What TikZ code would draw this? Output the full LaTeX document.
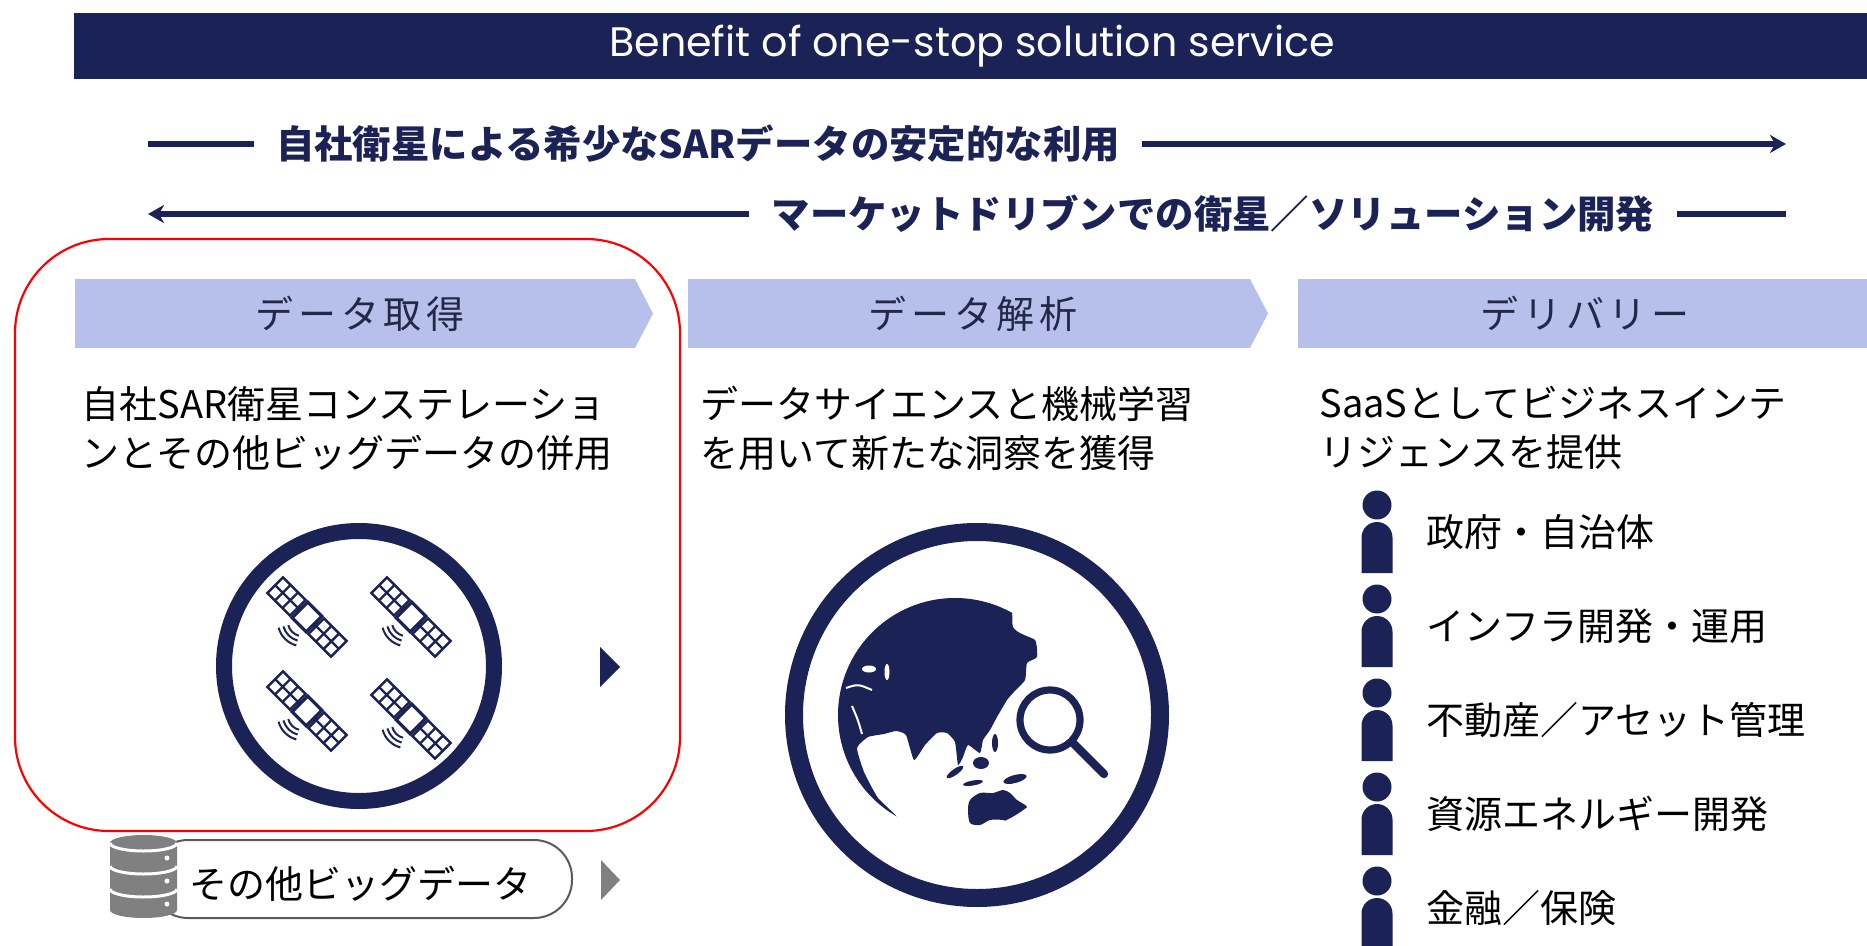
\documentclass[tikz,border=0pt]{standalone}
\usepackage{fontspec}
\setmainfont{Noto Sans CJK JP}
\newfontfamily\titlefont{Poppins}
\newfontfamily\phasefont[LetterSpace=12]{Noto Sans CJK JP}
\usetikzlibrary{arrows.meta}

\definecolor{navy}{RGB}{27,34,86}
\definecolor{phasebg}{RGB}{183,192,234}
\definecolor{phasefg}{RGB}{35,40,72}
\definecolor{dbgray}{RGB}{128,128,128}
\definecolor{pillgray}{RGB}{90,90,90}

\begin{document}
\begin{tikzpicture}[x=0.5pt,y=-0.5pt,
    flow/.style={navy,line width=2.8pt},
    flowtip/.style={-{Stealth[length=8pt,width=9pt,inset=2.5pt]}},
    flowtext/.style={text=navy,inner xsep=11pt,font=\bfseries\fontsize{19.2}{23}\selectfont},
    phase/.style={fill=phasebg},
    phasetext/.style={text=phasefg,font=\phasefont\fontsize{19}{23}\selectfont},
    body/.style={anchor=north west,inner sep=0pt,align=left,font=\fontsize{19}{24.5}\selectfont},
    ring/.style={draw=navy,line width=8pt},
    cell/.style={draw=navy,line width=1.2pt},
    user/.style={anchor=west,inner sep=0pt,font=\fontsize{19}{23}\selectfont}]

\useasboundingbox (0,0) rectangle (1867,946);

% title bar
\fill[navy] (74,13) rectangle (1867,79);
\node[text=white,font=\titlefont\fontsize{20.6}{24}\selectfont] (title) at (972,46) {Benefit of one-stop solution service};

% value flow in both directions
\coordinate (a1start) at (148,144);
\coordinate (a1end) at (1786,144);
\node[flowtext] (a1text) at (698,144) {自社衛星による希少なSARデータの安定的な利用};
\draw[flow] (a1start) -- (a1text.west);
\draw[flow,flowtip] (a1text.east) -- (a1end);

\coordinate (a2start) at (1786,214);
\coordinate (a2end) at (148,214);
\node[flowtext] (a2text) at (1213,214) {マーケットドリブンでの衛星／ソリューション開発};
\draw[flow] (a2start) -- (a2text.east);
\draw[flow,flowtip] (a2text.west) -- (a2end);

% phase headers
\fill[phase] (75,279) -- (635,279) -- (653,313.5) -- (635,348) -- (75,348) -- cycle;
\fill[phase] (688,279) -- (1250,279) -- (1268,313.5) -- (1250,348) -- (688,348) -- cycle;
\fill[phase] (1298,279) rectangle (1867,348);
\node[phasetext] (acq) at (360,313.5) {データ取得};
\node[phasetext] (ana) at (973,313.5) {データ解析};
\node[phasetext] (dlv) at (1585,313.5) {デリバリー};

\node[body] (acqtext) at (81,386) {自社SAR衛星コンステレーショ\\ンとその他ビッグデータの併用};
\node[body] (anatext) at (700,386) {データサイエンスと機械学習\\を用いて新たな洞察を獲得};
\node[body] (dlvtext) at (1319,386) {SaaSとしてビジネスインテ\\リジェンスを提供};

% highlight
\draw[red,line width=1.1pt,rounded corners=47pt] (15,239) rectangle (680,831);

% satellite constellation
\draw[ring] (359,666) circle (135);
\foreach \sx/\sy in {307/617,411/617,307/711,411/719} {
  \begin{scope}[shift={(\sx,\sy)},rotate=-45]
    \foreach \s in {-1,1} {
      \draw[cell] (\s*13,-11) rectangle (\s*45,11);
      \draw[cell] (\s*23.67,-11) -- (\s*23.67,11) (\s*34.33,-11) -- (\s*34.33,11) (\s*13,0) -- (\s*45,0);
      \fill[navy] (\s*10,-3) rectangle (\s*13,3);
    }
    \draw[navy,line width=1.6pt,fill=white] (-10,-11) rectangle (10,11);
    \foreach \r in {15,20,25}
      \draw[navy,line width=1pt] ([shift={(60:\r)}]0,6) arc[start angle=60,end angle=120,radius=\r];
  \end{scope}
}
\fill[navy] (600,647) -- (600,687) -- (620,667) -- cycle;

% other big data
\draw[pillgray,line width=1pt,rounded corners=19pt] (150,840) rectangle (572,918);
\fill[dbgray] (110,843) -- (110,910) arc[start angle=180,end angle=0,x radius=33.5,y radius=8]
  -- (177,843) arc[start angle=0,end angle=-180,x radius=33.5,y radius=8] -- cycle;
\foreach \k in {0,1,2} {
  \draw[white,line width=1.5pt] (110,843+23*\k) arc[start angle=180,end angle=0,x radius=33.5,y radius=8];
  \fill[white] (167,858+23*\k) circle (2.5);
}
\node[font=\fontsize{19}{23}\selectfont] (bigdata) at (360,884) {その他ビッグデータ};
\fill[dbgray] (601,860) -- (601,900) -- (620,880) -- cycle;

% globe with magnifier
\draw[ring,line width=9pt] (977,715) circle (183);
\begin{scope}
  \clip (955,715) circle (117);
  % Eurasia, Middle East and the African rim
  \fill[navy] plot[smooth cycle,tension=0.3] coordinates {(800,560) (1000,560) (1013,627) (1035,640)
    (1037,657) (1027,663) (1025,680) (1013,693) (1007,700) (997,717) (990,730) (983,740) (980,753)
    (968,745) (963,757) (958,765) (955,742) (947,733) (937,733) (925,745) (914,760) (906,735)
    (896,731) (884,734) (868,737) (857,748) (864,772) (878,798) (902,824) (895,870) (790,800)};
  \draw[white,line width=1pt] (846,688) .. controls (858,684) .. (872,690);
  \draw[white,line width=1pt] (852,706) .. controls (858,720) .. (862,734);
  \fill[white] (869,669) ellipse (7 and 3.5);
  \fill[white] (887,672) ellipse (2.5 and 8);
  \fill[navy] plot[smooth cycle,tension=0.5] coordinates {(970,800) (980,793) (993,793) (1003,790)
    (1010,793) (1017,800) (1027,807) (1023,817) (1013,823) (1003,820) (990,820) (980,825) (970,823) (968,810)};
  \fill[navy, rotate around={35:(955,772)}] (955,772) ellipse (10 and 3);
  \fill[navy] (981,763) ellipse (8 and 6);
  \fill[navy, rotate around={10:(973,783)}] (973,783) ellipse (10 and 2.5);
  \fill[navy] (995,743) ellipse (3 and 9);
  \fill[navy, rotate around={15:(1015,779)}] (1015,779) ellipse (12 and 4);
\end{scope}
\fill[white] (1050,720) circle (37);
\draw[navy,line width=3.6pt] (1050,720) circle (30);
\draw[navy,line width=4.2pt,line cap=round] (1072,742) -- (1104,774);

% client segments
\foreach \i/\txt in {0/政府・自治体,1/インフラ開発・運用,2/不動産／アセット管理,3/資源エネルギー開発,4/金融／保険} {
  \fill[navy] (1377,505+94*\i) circle (14.5);
  \fill[navy] (1361.5,573+94*\i) -- (1361.5,537.5+94*\i) arc[start angle=180,end angle=360,radius=15.5]
    -- (1392.5,573+94*\i) -- cycle;
  \node[user] (user\i) at (1426,532+94*\i) {\txt};
}
\end{tikzpicture}
\end{document}
